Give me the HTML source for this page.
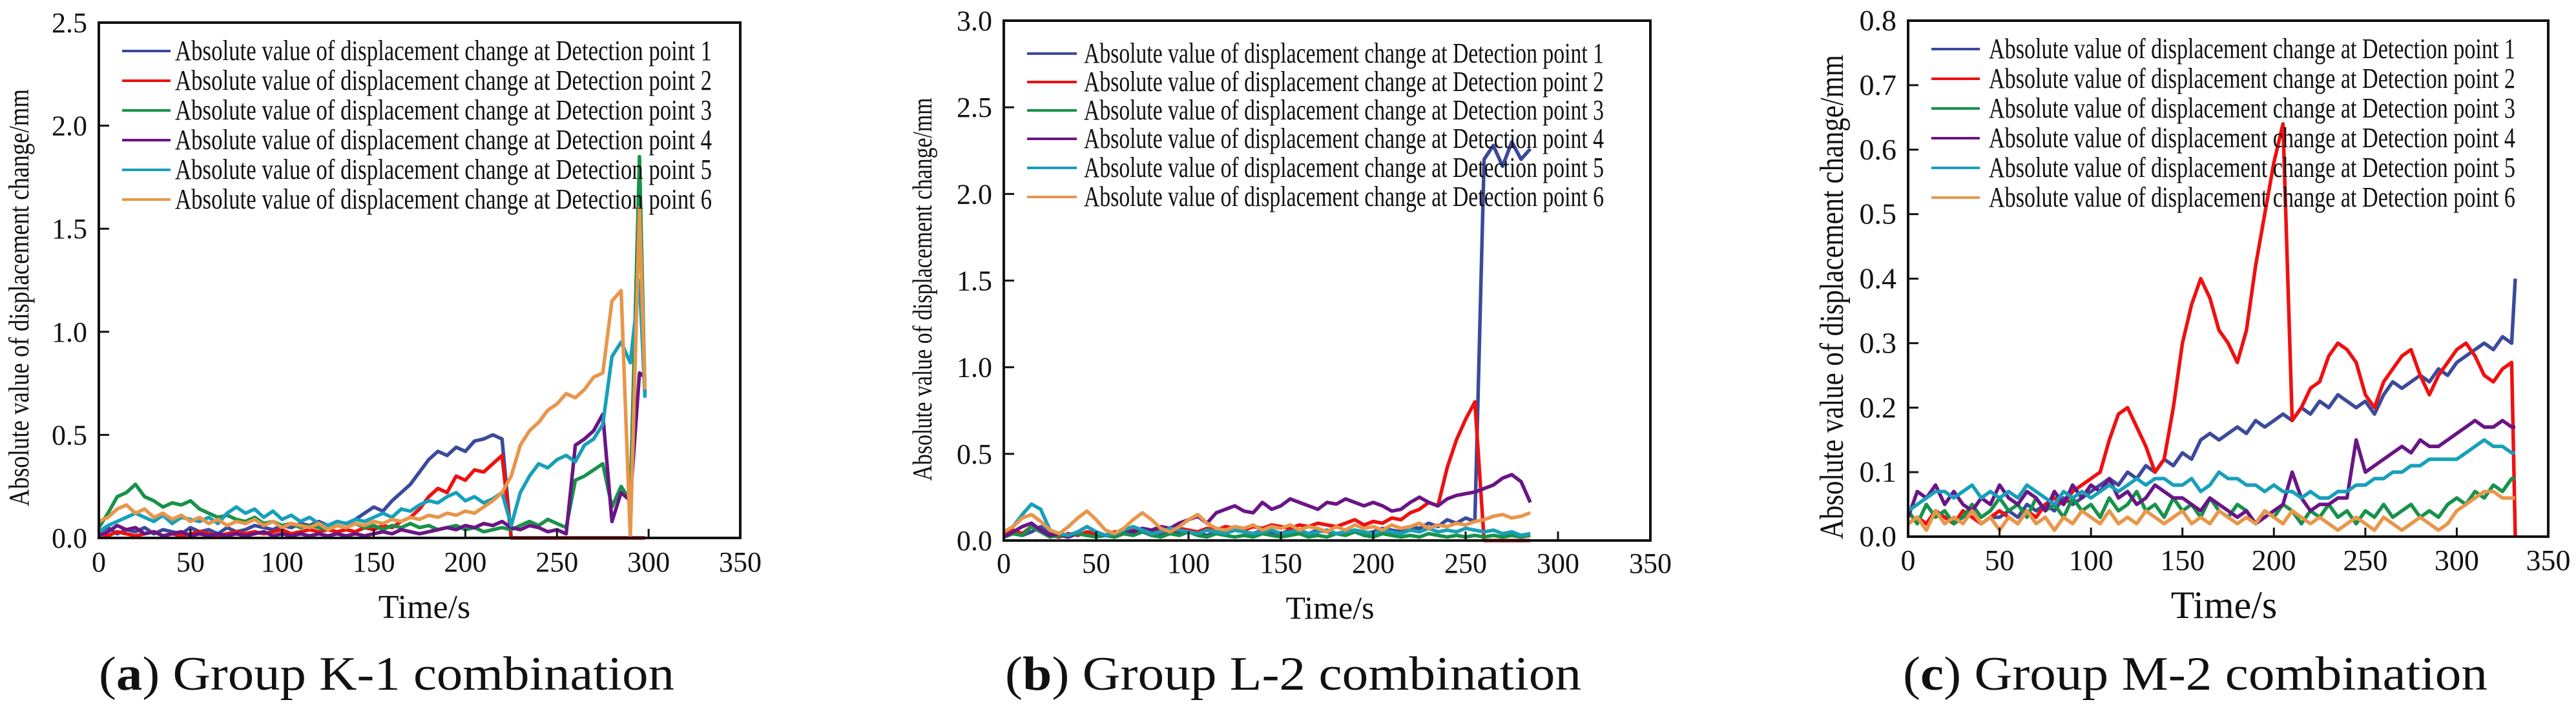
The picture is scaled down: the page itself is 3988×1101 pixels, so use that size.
<!DOCTYPE html>
<html><head><meta charset="utf-8"><style>
html,body{margin:0;padding:0;background:#fff;}
svg{display:block;font-family:"Liberation Serif",serif;}
</style></head><body>
<svg id="fig" width="3988" height="1101" viewBox="0 0 3988 1101" xmlns="http://www.w3.org/2000/svg">
<rect x="0" y="0" width="3988" height="1101" fill="#fff"/>
</svg>
<script>
const colors = ['#3b4a9c','#f01010','#17924a','#6a1585','#16a0ba','#e8964a'];
const legendLabels = ['Absolute value of displacement change at Detection point 1','Absolute value of displacement change at Detection point 2','Absolute value of displacement change at Detection point 3','Absolute value of displacement change at Detection point 4','Absolute value of displacement change at Detection point 5','Absolute value of displacement change at Detection point 6'];
const xTicks = [0,50,100,150,200,250,300,350];
const yTicksA = [0,0.5,1.0,1.5,2.0,2.5];
const yTicksB = [0,0.5,1.0,1.5,2.0,2.5,3.0];
const yTicksC = [0,0.1,0.2,0.3,0.4,0.5,0.6,0.7,0.8];

const timeA = [0,5,10,15,20,25,30,35,40,45,50,55,60,65,70,75,80,85,90,95,100,105,110,115,120,125,130,135,140,145,150,155,160,165,170,175,180,185,190,195,200,205,210,215,220,225,230,235,240,245,250,255,260,265,270,275,280,285,290,295,298];
const a1 = [0.03,0.05,0.02,0.04,0.03,0.05,0.02,0.04,0.03,0.02,0.05,0.03,0.04,0.02,0.05,0.03,0.04,0.06,0.05,0.04,0.06,0.05,0.07,0.06,0.08,0.06,0.08,
0.07,0.09,0.12,0.15,0.13,0.18,0.22,0.26,0.32,0.38,0.42,0.40,0.44,0.42,0.47,0.48,0.50,0.48,
0,0,0,0,0,0,0,0,0,0,0,0,0,0,0,0];
const a2 = [0.02,0.01,0.03,0.02,0.01,0.02,0.03,0.01,0.02,0.01,0.02,0.03,0.02,0.01,0.02,0.03,0.02,0.03,0.02,0.03,0.04,0.02,0.03,0.04,0.03,0.04,0.03,
0.04,0.03,0.05,0.04,0.06,0.05,0.08,0.10,0.14,0.20,0.24,0.22,0.30,0.28,0.33,0.32,0.36,0.40,
0,0,0,0,0,0,0,0,0,0,0,0,0,0,0,0];
const a3 = [0.05,0.12,0.20,0.22,0.26,0.20,0.18,0.15,0.17,0.16,0.18,0.14,0.12,0.10,0.11,0.09,0.08,0.10,0.07,0.08,0.06,0.07,0.05,0.06,0.05,0.04,0.06,
0.05,0.07,0.05,0.06,0.04,0.06,0.05,0.07,0.05,0.06,0.04,0.05,0.06,0.04,0.05,0.03,0.04,0.05,
0.04,0.06,0.08,0.06,0.09,0.07,0.05,0.28,0.30,0.33,0.36,0.15,0.25,0.18,1.85,0.70];
const a4 = [0.01,0.03,0.06,0.04,0.05,0.02,0.03,0.01,0.02,0.03,0.01,0.02,0.01,0.02,0.01,0.02,0.01,0.02,0.03,0.01,0.02,0.01,0.02,0.01,0.02,0.01,0.02,
0.01,0.02,0.01,0.02,0.03,0.02,0.04,0.03,0.02,0.03,0.04,0.05,0.04,0.06,0.05,0.07,0.06,0.08,
0.05,0.04,0.06,0.05,0.03,0.04,0.02,0.45,0.48,0.52,0.60,0.08,0.22,0.18,0.80,0.78];
const a5 = [0.03,0.06,0.08,0.10,0.12,0.10,0.08,0.11,0.07,0.10,0.09,0.08,0.10,0.07,0.12,0.15,0.12,0.14,0.10,0.13,0.09,0.11,0.08,0.10,0.07,0.06,0.08,
0.07,0.09,0.08,0.10,0.12,0.10,0.14,0.13,0.16,0.18,0.17,0.20,0.22,0.18,0.20,0.17,0.19,0.22,
0.06,0.22,0.30,0.36,0.34,0.38,0.40,0.37,0.45,0.48,0.55,0.88,0.95,0.85,1.25,0.68];
const a6 = [0.08,0.10,0.14,0.16,0.12,0.14,0.10,0.12,0.09,0.11,0.08,0.10,0.07,0.09,0.06,0.08,0.07,0.09,0.06,0.08,0.05,0.07,0.06,0.05,0.07,0.04,0.06,
0.05,0.07,0.06,0.08,0.07,0.09,0.08,0.10,0.09,0.11,0.10,0.12,0.11,0.13,0.12,0.15,0.18,0.22,
0.30,0.45,0.52,0.56,0.62,0.65,0.70,0.68,0.72,0.78,0.80,1.15,1.20,0.0,1.60,0.72];

const timeB = [0,5,10,15,20,25,30,35,40,45,50,55,60,65,70,75,80,85,90,95,100,105,110,115,120,125,130,135,140,145,150,155,160,165,170,175,180,185,190,195,200,205,210,215,220,225,230,235,240,245,250,255,260,265,270,275,280,285];
const b1 = [0.02,0.04,0.03,0.05,0.08,0.04,0.03,0.02,0.04,0.03, 0.05,0.03,0.02,0.04,0.03,0.05,0.04,0.03,0.05,0.04, 0.06,0.04,0.03,0.05,0.04,0.06,0.05,0.04,0.06,0.05, 0.04,0.06,0.05,0.04,0.06,0.05,0.04,0.05,0.06,0.04, 0.05,0.07,0.06,0.05,0.08,0.07,0.10,0.08,0.12,0.10, 0.13,0.11,2.20,2.28,2.16,2.30,2.20,2.26];
const b2 = [0.03,0.06,0.04,0.08,0.05,0.03,0.02,0.04,0.03,0.05, 0.04,0.03,0.05,0.04,0.06,0.05,0.04,0.06,0.05,0.07, 0.06,0.05,0.07,0.06,0.08,0.07,0.06,0.08,0.07,0.09, 0.08,0.07,0.09,0.08,0.10,0.09,0.08,0.10,0.12,0.09, 0.11,0.10,0.13,0.12,0.16,0.18,0.22,0.20,0.42,0.58, 0.70,0.80,0,0,0,0,0,0];
const b3 = [0.02,0.04,0.03,0.08,0.05,0.02,0.03,0.02,0.04,0.03, 0.02,0.03,0.02,0.04,0.03,0.05,0.03,0.02,0.04,0.03, 0.05,0.03,0.02,0.04,0.03,0.02,0.03,0.02,0.04,0.03, 0.02,0.03,0.04,0.02,0.03,0.02,0.04,0.03,0.05,0.03, 0.02,0.04,0.03,0.02,0.03,0.02,0.04,0.03,0.02,0.03, 0.02,0.03,0.02,0.03,0.02,0.03,0.02,0.03];
const b4 = [0.02,0.05,0.08,0.10,0.06,0.03,0.04,0.02,0.05,0.08, 0.05,0.03,0.04,0.06,0.05,0.07,0.06,0.08,0.07,0.10, 0.12,0.14,0.10,0.16,0.18,0.20,0.17,0.16,0.22,0.18, 0.20,0.24,0.22,0.20,0.18,0.22,0.21,0.24,0.22,0.20, 0.22,0.20,0.17,0.18,0.22,0.25,0.22,0.20,0.24,0.26, 0.27,0.28,0.30,0.32,0.36,0.38,0.34,0.22];
const b5 = [0.05,0.08,0.15,0.21,0.18,0.06,0.04,0.03,0.05,0.08, 0.05,0.03,0.04,0.06,0.08,0.06,0.04,0.05,0.07,0.06, 0.05,0.04,0.06,0.05,0.04,0.06,0.05,0.04,0.05,0.06, 0.04,0.05,0.06,0.04,0.05,0.06,0.04,0.05,0.06,0.05, 0.04,0.06,0.05,0.04,0.06,0.05,0.07,0.05,0.06,0.05, 0.07,0.06,0.05,0.06,0.04,0.05,0.03,0.04];
const b6 = [0.05,0.08,0.13,0.15,0.11,0.06,0.04,0.08,0.13,0.17, 0.12,0.06,0.04,0.07,0.12,0.16,0.12,0.07,0.05,0.08, 0.12,0.15,0.10,0.07,0.06,0.08,0.07,0.09,0.06,0.08, 0.07,0.09,0.06,0.08,0.07,0.05,0.08,0.06,0.09,0.07, 0.08,0.06,0.09,0.07,0.08,0.10,0.07,0.09,0.08,0.10, 0.09,0.11,0.12,0.14,0.15,0.13,0.14,0.16];

const timeC = [0,5,10,15,20,25,30,35,40,45,50,55,60,65,70,75,80,85,90,95,100,105,110,115,120,125,130,135,140,145,150,155,160,165,170,175,180,185,190,195,200,205,210,215,220,225,230,235,240,245,250,255,260,265,270,275,280,285,290,295,300,305,310,315,320,325,330,332];
const c1 = [0.02,0.03,0.02,0.04,0.03,0.02,0.03,0.04,0.02,0.03, 0.03,0.04,0.03,0.05,0.04,0.05,0.04,0.06,0.05,0.06, 0.07,0.08,0.09,0.08,0.10,0.09,0.11,0.10,0.12,0.11, 0.13,0.12,0.15,0.16,0.15,0.16,0.17,0.16,0.18,0.17, 0.18,0.19,0.18,0.20,0.19,0.21,0.20,0.22,0.21,0.20, 0.21,0.19,0.22,0.24,0.23,0.24,0.25,0.24,0.26,0.25, 0.27,0.28,0.29,0.30,0.29,0.31,0.30,0.40];
const c2 = [0.02,0.03,0.02,0.04,0.03,0.02,0.04,0.03,0.02,0.03, 0.04,0.03,0.02,0.04,0.03,0.05,0.06,0.05,0.07,0.08, 0.09,0.10,0.15,0.19,0.20,0.17,0.14,0.10,0.12,0.20, 0.30,0.36,0.40,0.37,0.32,0.30,0.27,0.32,0.42,0.50, 0.58,0.64,0.18,0.20,0.23,0.24,0.28,0.30,0.29,0.27, 0.22,0.20,0.24,0.26,0.28,0.29,0.25,0.22,0.25,0.27, 0.29,0.30,0.28,0.25,0.24,0.26,0.27,0.0];
const c3 = [0.04,0.02,0.05,0.03,0.04,0.02,0.03,0.05,0.03,0.04, 0.06,0.04,0.05,0.03,0.06,0.04,0.05,0.03,0.06,0.04, 0.05,0.03,0.06,0.04,0.05,0.07,0.04,0.05,0.03,0.06, 0.04,0.05,0.03,0.06,0.04,0.03,0.05,0.04,0.02,0.04, 0.03,0.05,0.04,0.02,0.04,0.03,0.05,0.03,0.04,0.02, 0.04,0.03,0.05,0.03,0.04,0.05,0.03,0.04,0.03,0.05, 0.06,0.05,0.07,0.06,0.08,0.07,0.09,0.09];
const c4 = [0.03,0.07,0.06,0.08,0.05,0.07,0.05,0.04,0.06,0.05, 0.08,0.06,0.05,0.07,0.06,0.04,0.07,0.05,0.08,0.06, 0.08,0.07,0.09,0.06,0.07,0.05,0.06,0.08,0.07,0.06, 0.06,0.05,0.04,0.06,0.05,0.04,0.03,0.04,0.02,0.03, 0.04,0.05,0.10,0.06,0.04,0.05,0.05,0.06,0.06,0.15, 0.10,0.11,0.12,0.13,0.14,0.13,0.15,0.14,0.14,0.15, 0.16,0.17,0.18,0.17,0.17,0.18,0.17,0.17];
const c5 = [0.04,0.05,0.06,0.07,0.07,0.06,0.07,0.08,0.06,0.07, 0.06,0.07,0.06,0.08,0.07,0.06,0.05,0.07,0.06,0.07, 0.06,0.07,0.08,0.07,0.08,0.09,0.08,0.09,0.09,0.08, 0.08,0.09,0.07,0.08,0.10,0.09,0.09,0.08,0.08,0.07, 0.08,0.07,0.07,0.06,0.07,0.06,0.06,0.07,0.07,0.08, 0.08,0.09,0.09,0.10,0.10,0.11,0.11,0.12,0.12,0.12, 0.12,0.13,0.14,0.15,0.14,0.14,0.13,0.13];
const c6 = [0.02,0.03,0.01,0.04,0.02,0.03,0.02,0.04,0.02,0.03, 0.01,0.03,0.02,0.04,0.02,0.03,0.01,0.03,0.02,0.04, 0.03,0.02,0.04,0.02,0.03,0.02,0.04,0.03,0.02,0.03, 0.04,0.02,0.03,0.02,0.04,0.03,0.02,0.03,0.02,0.04, 0.03,0.02,0.04,0.03,0.02,0.03,0.02,0.01,0.02,0.03, 0.02,0.01,0.03,0.02,0.01,0.02,0.03,0.02,0.01,0.02, 0.04,0.05,0.06,0.07,0.07,0.06,0.06,0.06];

const NS='http://www.w3.org/2000/svg';
const svg=document.getElementById('fig');
function mk(tag,attrs,parent){const e=document.createElementNS(NS,tag);for(const k in attrs)e.setAttribute(k,attrs[k]);(parent||svg).appendChild(e);return e;}

function panel(cfg){
  const g=mk('g',{});
  
  
  const L=cfg.left,R=cfg.right,T=cfg.top,B=cfg.bottom;
  const xs=v=>L+(v/350)*(R-L);
  const ys=v=>B-(v/cfg.ymax)*(B-T);
  cfg.series.forEach((s,i)=>{
    let d='';
    cfg.time.forEach((t,j)=>{d+=(j?'L':'M')+xs(t).toFixed(1)+' '+ys(s[j]).toFixed(1);});
    const p=mk('path',{d:d,fill:'none',stroke:colors[i],'stroke-width':5.5,'stroke-linejoin':'round'},g);
    
    
  });
  const fr=mk('rect',{x:L,y:T,width:R-L,height:B-T,fill:'none',stroke:'#111','stroke-width':4},g);
  
  
  xTicks.forEach(v=>{
    mk('line',{x1:xs(v),x2:xs(v),y1:B,y2:B-14,stroke:'#111','stroke-width':3},g);
    const t=mk('text',{x:xs(v),y:cfg.xlabY,'font-size':cfg.tickFont,'text-anchor':'middle',fill:'#111'},g);
    t.textContent=String(v);
    
    
  });
  cfg.yTicks.forEach(v=>{
    mk('line',{x1:L,x2:L+16,y1:ys(v),y2:ys(v),stroke:'#111','stroke-width':3},g);
    const t=mk('text',{x:L-18,y:ys(v)+15,'font-size':cfg.tickFont,'text-anchor':'end',fill:'#111'},g);
    t.textContent=v.toFixed(1);
    
    
  });
  cfg.legY.forEach((y,i)=>{
    const ln=mk('line',{x1:cfg.legX1,x2:cfg.legX2,y1:y,y2:y,stroke:colors[i],'stroke-width':4},g);
    
    
    const t=mk('text',{x:cfg.legTx,y:y+14,'font-size':44,fill:'#111',textLength:cfg.legW,lengthAdjust:'spacingAndGlyphs'},g);
    t.textContent=legendLabels[i];
    
    
  });
  const xt=mk('text',{x:cfg.xtX,y:cfg.xtY,'font-size':cfg.xtFont,'text-anchor':'middle',fill:'#111'},g);
  xt.textContent='Time/s';
  
  
  const yt=mk('text',{x:0,y:0,'font-size':cfg.ytFont,'text-anchor':'middle',fill:'#111',textLength:cfg.ytLen,lengthAdjust:'spacingAndGlyphs',transform:'translate('+cfg.ytX+','+cfg.ytY+') rotate(-90)'},g);
  yt.textContent='Absolute value of displacement change/mm';
  
  
  const cap=mk('text',{x:cfg.capX,y:1068,'font-size':74,fill:'#111',textLength:cfg.capW,lengthAdjust:'spacingAndGlyphs'},g);
  
  
  const s1=mk('tspan',{},cap);s1.textContent='(';
  const s2=mk('tspan',{'font-weight':'bold'},cap);s2.textContent=cfg.letter;
  const s3=mk('tspan',{},cap);s3.textContent=') '+cfg.capText;
}

panel({name:'panel-a-k1',left:153,right:1146,top:35,bottom:833,ymax:2.5,yTicks:yTicksA,time:timeA,series:[a1,a2,a3,a4,a5,a6],
  xlabY:885,tickFont:44,legX1:189,legX2:264,legTx:271,legW:831,legY:[79,125,171,217,263,309],
  xtX:657,xtY:957,xtFont:52,ytX:44,ytY:461,ytFont:44,ytLen:646,capX:153,capW:891,letter:'a',capText:'Group K-1 combination'});
panel({name:'panel-b-l2',left:1554,right:2555,top:32,bottom:837,ymax:3.0,yTicks:yTicksB,time:timeB,series:[b1,b2,b3,b4,b5,b6],
  xlabY:887,tickFont:44,legX1:1590,legX2:1667,legTx:1678,legW:805,legY:[83,127,171,215,260,305],
  xtX:2059,xtY:958,xtFont:50,ytX:1442,ytY:448,ytFont:42,ytLen:593,capX:1556,capW:892,letter:'b',capText:'Group L-2 combination'});
panel({name:'panel-c-m2',left:2954,right:3945,top:32,bottom:831,ymax:0.8,yTicks:yTicksC,time:timeC,series:[c1,c2,c3,c4,c5,c6],
  xlabY:883,tickFont:46,legX1:2990,legX2:3065,legTx:3079,legW:815,legY:[76,122,168,214,260,306],
  xtX:3443,xtY:957,xtFont:60,ytX:2853,ytY:460,ytFont:52,ytLen:750,capX:2946,capW:905,letter:'c',capText:'Group M-2 combination'});
</script>
</body></html>
